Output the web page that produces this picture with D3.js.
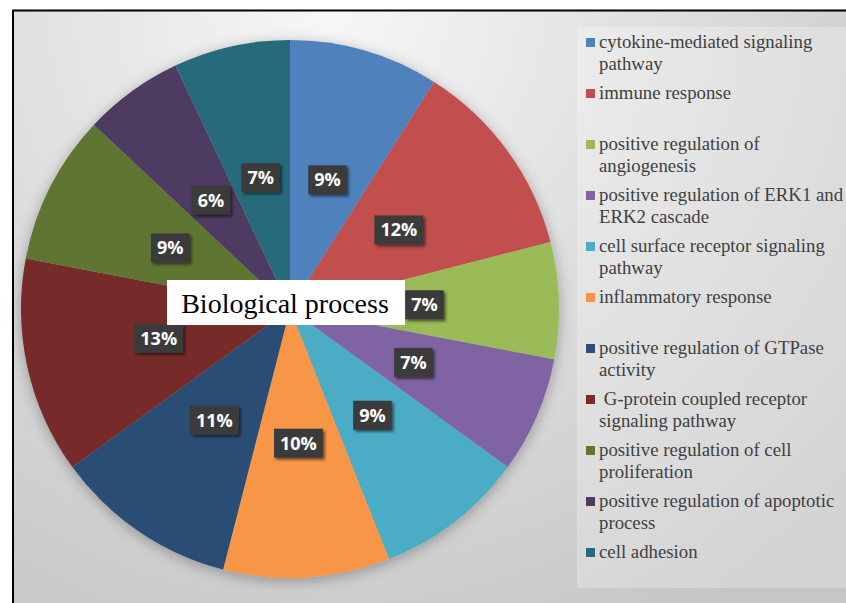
<!DOCTYPE html>
<html>
<head>
<meta charset="utf-8">
<script src="https://cdn.jsdelivr.net/npm/d3@7"></script>
<style>
  body { margin: 0; background: #fff; }
</style>
</head>
<body>
<div id="chart"></div>
<script>
// chart data
var categories = [
  "cytokine-mediated signaling\npathway",
  "immune response",
  "positive regulation of\nangiogenesis",
  "positive regulation of ERK1 and\nERK2 cascade",
  "cell surface receptor signaling\npathway",
  "inflammatory response",
  "positive regulation of GTPase\nactivity",
  " G-protein coupled receptor\nsignaling pathway",
  "positive regulation of cell\nproliferation",
  "positive regulation of apoptotic\nprocess",
  "cell adhesion"
]
var values = [9, 12, 7, 7, 9, 10, 11, 13, 9, 6, 7]
var colors = ["#4F81BD", "#C0504D", "#9BBB59", "#8064A2", "#4BACC6", "#F79646",
              "#2C4D75", "#772C2A", "#5F7530", "#4D3B62", "#276A7C"]
var title = "Biological process"

var width = 846, height = 603
var cx = 290, cy = 309, radius = 269

var svg = d3.select("#chart").append("svg")
  .attr("width", width)
  .attr("height", height)

var defs = svg.append("defs")

// background gradient, bright at top centre
var bg = defs.append("radialGradient")
  .attr("id", "bg")
  .attr("gradientUnits", "userSpaceOnUse")
  .attr("cx", 330).attr("cy", 10).attr("r", 700)
bg.append("stop").attr("offset", "0%").attr("stop-color", "#f7f7f7")
bg.append("stop").attr("offset", "45%").attr("stop-color", "#e0e0e0")
bg.append("stop").attr("offset", "100%").attr("stop-color", "#c6c6c6")

var pieShadow = defs.append("filter").attr("id", "pieShadow")
  .attr("x", "-20%").attr("y", "-20%").attr("width", "140%").attr("height", "140%")
pieShadow.append("feDropShadow")
  .attr("dx", 0).attr("dy", 3).attr("stdDeviation", 7)
  .attr("flood-color", "#000").attr("flood-opacity", 0.3)

var boxShadow = defs.append("filter").attr("id", "boxShadow")
  .attr("x", "-30%").attr("y", "-30%").attr("width", "170%").attr("height", "170%")
boxShadow.append("feDropShadow")
  .attr("dx", 2).attr("dy", 2).attr("stdDeviation", 1.5)
  .attr("flood-color", "#000").attr("flood-opacity", 0.55)

// frame
svg.append("rect")
  .attr("x", 13).attr("y", 10)
  .attr("width", width - 13).attr("height", height - 10)
  .attr("fill", "url(#bg)")
svg.append("path")
  .attr("d", "M13," + height + "V10.5H" + width)
  .attr("fill", "none")
  .attr("stroke", "#000")
  .attr("stroke-width", 2)

// legend panel
svg.append("rect")
  .attr("x", 577).attr("y", 27)
  .attr("width", width - 577).attr("height", 561)
  .attr("fill", "#fff").attr("fill-opacity", 0.25)

// pie
var pie = d3.pie().sort(null).value(function(d) { return d.value })
var data_ready = pie(values.map(function(v, i) { return {value: v, color: colors[i], name: categories[i]} }))

var arc = d3.arc().innerRadius(0).outerRadius(radius)

var g = svg.append("g").attr("transform", "translate(" + cx + "," + cy + ")")

g.append("g").attr("filter", "url(#pieShadow)")
  .selectAll("path")
  .data(data_ready)
  .enter()
  .append("path")
  .attr("d", arc)
  .attr("fill", function(d) { return d.data.color })

// percentage labels
var labels = g.selectAll(".lbl")
  .data(data_ready)
  .enter()
  .append("g")
  .attr("class", "lbl")
  .attr("transform", function(d) { return "translate(" + arc.centroid(d) + ")" })

labels.each(function(d) {
  var lg = d3.select(this)
  var t = lg.append("text")
    .text(d.data.value + "%")
    .attr("text-anchor", "middle")
    .attr("dy", "0.36em")
    .style("font-family", "'Open Sans', 'DejaVu Sans', sans-serif")
    .style("font-weight", "bold")
    .style("font-size", "18px")
    .attr("fill", "#fff")
  var w = t.node().getComputedTextLength() + 12
  lg.insert("rect", "text")
    .attr("x", -w / 2).attr("y", -14.5)
    .attr("width", w).attr("height", 29)
    .attr("fill", "#3a3a3a")
    .attr("filter", "url(#boxShadow)")
})

// title box
var tg = svg.append("g")
tg.append("rect")
  .attr("x", 167).attr("y", 280)
  .attr("width", 238).attr("height", 45)
  .attr("fill", "#fff")
tg.append("text")
  .attr("x", 285).attr("y", 313)
  .attr("text-anchor", "middle")
  .style("font-family", "'Liberation Serif', 'Times New Roman', serif")
  .style("font-size", "28px")
  .attr("fill", "#000")
  .text(title)

// legend
var legend = svg.append("g")
var item = legend.selectAll(".item")
  .data(categories)
  .enter()
  .append("g")
  .attr("class", "item")
  .attr("transform", function(d, i) { return "translate(586," + (48 + i * 51) + ")" })

item.append("rect")
  .attr("x", 0).attr("y", -10)
  .attr("width", 9).attr("height", 9)
  .attr("fill", function(d, i) { return colors[i] })

item.append("text")
  .style("font-family", "'Liberation Serif', 'Times New Roman', serif")
  .style("font-size", "18.8px")
  .style("white-space", "pre")
  .attr("fill", "#404040")
  .selectAll("tspan")
  .data(function(d) { return d.split("\n") })
  .enter()
  .append("tspan")
  .attr("x", 13)
  .attr("dy", function(d, j) { return j == 0 ? 0 : 21.5 })
  .text(function(d) { return d })
</script>
</body>
</html>
